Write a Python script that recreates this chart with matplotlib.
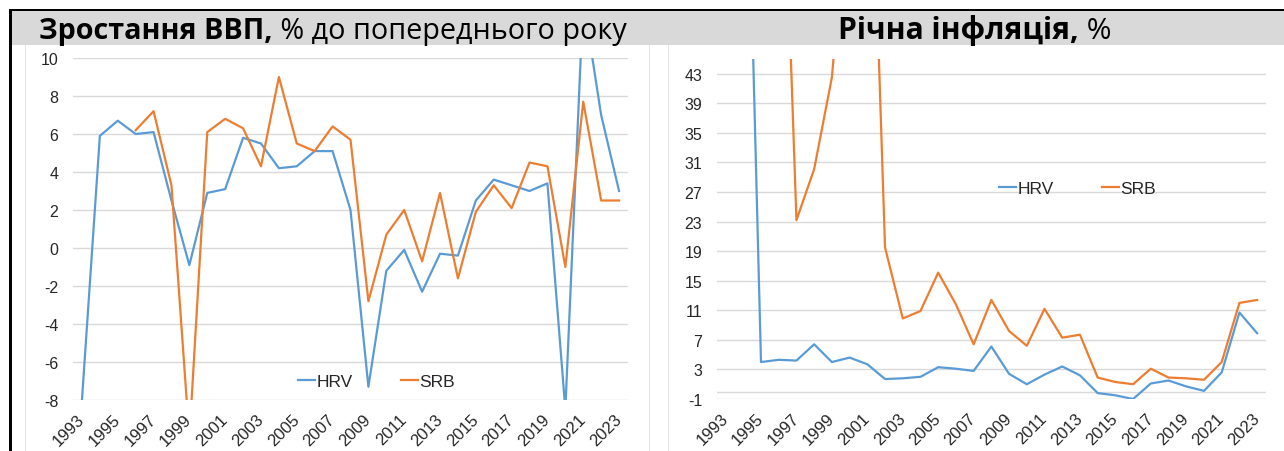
import numpy as np
import matplotlib
matplotlib.use("Agg")
import matplotlib.pyplot as plt
from matplotlib.patches import Rectangle
from matplotlib.text import Annotation

# data
years = list(range(1993, 2024))

gdp_hrv = [-8.0, 5.9, 6.7, 6.0, 6.1, 2.5, -0.9, 2.9, 3.1, 5.8,
           5.5, 4.2, 4.3, 5.1, 5.1, 2.0, -7.3, -1.2, -0.1, -2.3,
           -0.3, -0.4, 2.5, 3.6, 3.3, 3.0, 3.4, -8.5, 13.1, 7.0, 3.0]
gdp_srb = [np.nan, np.nan, np.nan, 6.2, 7.2, 3.3, -10.0, 6.1, 6.8, 6.3,
           4.3, 9.0, 5.5, 5.1, 6.4, 5.7, -2.8, 0.7, 2.0, -0.7,
           2.9, -1.6, 1.9, 3.3, 2.1, 4.5, 4.3, -1.0, 7.7, 2.5, 2.5]

inf_hrv = [1500.0, 97.6, 4.0, 4.3, 4.2, 6.4, 4.0, 4.6, 3.7, 1.7,
           1.8, 2.0, 3.3, 3.1, 2.8, 6.1, 2.4, 1.0, 2.3, 3.4,
           2.2, -0.2, -0.5, -1.0, 1.1, 1.5, 0.7, 0.1, 2.6, 10.7, 7.9]
inf_srb = [np.nan, np.nan, np.nan, 93.0, 23.2, 30.1, 42.5, 70.0, 93.0, 19.5,
           9.9, 10.9, 16.1, 11.8, 6.4, 12.4, 8.2, 6.2, 11.2, 7.3,
           7.7, 1.9, 1.3, 1.0, 3.1, 1.9, 1.8, 1.6, 4.0, 12.0, 12.4]

series_names = ["HRV", "SRB"]
colors = ["#5B9BD5", "#ED7D31"]

W, H = 1284, 452
GRID = "#d9d9d9"
TICK_FONT = "Liberation Sans"
TITLE_FONT = ["Open Sans", "DejaVu Sans"]

plt.rcParams["axes.unicode_minus"] = False


def fx(px):
    return px / W


def fy(py):
    return 1 - py / H


def style_axis(ax, ylim, yticks):
    x = np.arange(len(years))
    ax.set_xlim(-0.5, len(years) - 0.5)
    ax.set_ylim(*ylim)
    ax.set_yticks(yticks)
    ax.set_xticks(x[::2])
    ax.set_xticklabels([str(y) for y in years[::2]], rotation=45, ha="right",
                       va="center", rotation_mode="anchor")
    ax.tick_params(axis="both", length=0, labelcolor="#262626")
    ax.tick_params(axis="y", pad=10.5, labelsize=11.5)
    ax.tick_params(axis="x", pad=12, labelsize=12)
    for lab in ax.get_xticklabels() + ax.get_yticklabels():
        lab.set_fontfamily(TICK_FONT)
    ax.grid(axis="y", color=GRID, lw=1.0)
    ax.set_axisbelow(True)
    for s in ax.spines.values():
        s.set_visible(False)
    ax.patch.set_alpha(0)


def add_legend(ax, x_px, y_px):
    leg = ax.legend(ncol=2, frameon=False, loc="center left",
                    bbox_to_anchor=(fx(x_px), fy(y_px)), bbox_transform=fig.transFigure,
                    borderpad=0, borderaxespad=0, handlelength=1.0, handletextpad=0.05,
                    columnspacing=2.8, prop={"family": TICK_FONT, "size": 12.5})
    for t in leg.get_texts():
        t.set_color("#262626")


fig = plt.figure(figsize=(W / 100, H / 100), dpi=100)

# frame: black top / left rule, grey header band, thin separators
fig.add_artist(Rectangle((fx(12), fy(46)), 1 - fx(12), (46 - 12) / H,
                         transform=fig.transFigure, color="#d9d9d9", lw=0))
fig.add_artist(Rectangle((fx(9), fy(12)), 1 - fx(9), 2.5 / H,
                         transform=fig.transFigure, color="black", lw=0))
fig.add_artist(Rectangle((fx(9), 0), 3 / W, fy(10),
                         transform=fig.transFigure, color="black", lw=0))
for xp in [25, 649, 668]:
    fig.add_artist(Rectangle((fx(xp), 0), 1 / W, fy(46),
                             transform=fig.transFigure, color="#e3e3e3", lw=0))

# titles (bold part followed by regular part)
for x0, size, bold, regular in [(39, 20.7, "Зростання ВВП,", " % до попереднього року"),
                                (838, 21.6, "Річна інфляція,", " %")]:
    t1 = fig.text(fx(x0), fy(39), bold, fontsize=size, fontweight="bold",
                  family=TITLE_FONT, va="baseline", ha="left")
    fig.add_artist(Annotation(regular, xy=(1, 0), xycoords=t1, fontsize=size,
                              family=TITLE_FONT, va="bottom", ha="left",
                              annotation_clip=False))

# left panel: GDP growth
ax1 = fig.add_axes([fx(73), fy(401), (628 - 73) / W, (401 - 59) / H])
x = np.arange(len(years))
for vals, name, c in zip([gdp_hrv, gdp_srb], series_names, colors):
    ax1.plot(x, vals, color=c, lw=1.6, label=name)
style_axis(ax1, (-8, 10), np.arange(-8, 11, 2))
add_legend(ax1, 298, 382)

# right panel: annual inflation
ax2 = fig.add_axes([fx(716.7), fy(400), (1266 - 716.7) / W, (400 - 60) / H])
ax2.axhline(0, color=GRID, lw=1.0, zorder=0)
for vals, name, c in zip([inf_hrv, inf_srb], series_names, colors):
    ax2.plot(x, vals, color=c, lw=1.6, label=name)
style_axis(ax2, (-1, 45), np.arange(-1, 44, 4))
add_legend(ax2, 999, 189)

fig.savefig("out.png", dpi=100)
